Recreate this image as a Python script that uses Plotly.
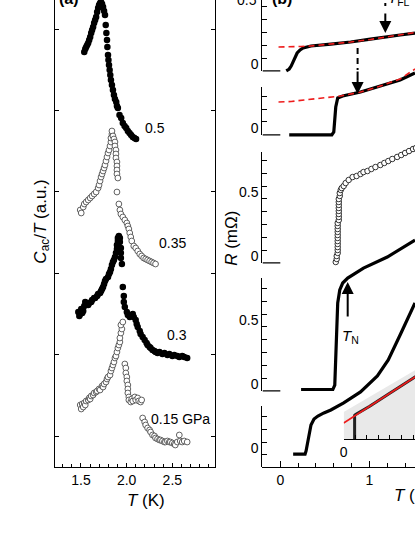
import plotly.graph_objects as go

FONT = "Liberation Sans, Arial, Helvetica, sans-serif"

# ---------------- Panel (a): C_ac/T (a.u.) vs T (K) ----------------
a_T_050 = [1.536,1.547,1.557,1.568,1.579,1.590,1.601,1.612,1.622,1.633,1.644,1.655,1.666,1.677,1.688,1.698,1.709,1.720,1.731,1.742,
           1.753,1.763,1.771,1.778,1.785,1.789,1.796,1.801,1.807,1.814,1.821,1.828,1.839,1.850,1.861,1.872,1.886,1.894,1.904,1.922,
           1.940,1.958,1.977,1.995,2.013,2.031,2.049,2.067,2.085,2.103]
a_C_050 = [384,387,389,391,393,396,399,403,406,409,413,416,419,424,428,431,433,434,432,429,
           425,421,411,403,396,389,381,376,371,366,361,356,351,346,341,337,334,330,328,321,
           318,313,310,308,305,303,301,299,298,297]

a_T_035 = [1.492,1.503,1.525,1.536,1.557,1.579,1.601,1.622,1.644,1.666,1.688,1.698,1.709,1.720,1.731,1.742,1.753,1.763,1.774,1.785,
           1.796,1.807,1.818,1.828,1.828,1.839,1.839,
           1.850,1.861,1.872,1.872,1.883,1.883,1.883,1.894,1.894,1.894,1.894,1.904,1.894,1.915,1.926,1.937,1.958,1.980,2.002,2.013,
           2.024,2.034,2.045,2.056,2.078,2.099,2.121,2.143,2.164,2.186,2.208,2.229,2.251,2.273,2.294,2.316]
a_C_035 = [226,223,229,232,234,236,238,240,242,244,248,251,255,259,262,265,268,271,275,279,
           283,286,290,294,298,302,305,
           300,297,294,290,286,282,278,274,270,266,262,258,244,232,226,222,219,216,213,210,
           207,203,199,195,190,188,185,182,180,178,177,176,175,174,173,172]

a_T_030 = [1.471,1.482,1.492,1.503,1.514,1.525,1.536,1.547,1.557,1.579,1.590,1.612,1.622,1.644,1.655,1.677,1.688,1.709,1.720,1.731,
           1.742,1.753,1.763,1.774,1.796,1.807,1.818,1.828,1.839,1.850,1.861,1.872,1.883,1.894,1.894,1.904,1.904,1.915,1.926,1.926,
           1.937,1.937,1.937,1.948,1.958,1.969,1.969,1.980,2.002,2.013,2.034,2.056,2.067,2.078,2.099,2.110,2.121,2.143,2.153,2.175,
           2.197,2.218,2.229,2.251,2.262,2.283,2.305,2.316,2.338,2.359,2.391,2.413,2.446,2.467,2.500,2.521,2.554,2.576,2.608,2.630,2.662]
a_C_030 = [124,120,122,127,123,125,130,134,131,131,133,134,136,138,138,140,142,143,145,147,
           149,152,155,157,159,162,164,167,171,174,176,179,183,187,191,195,198,200,198,194,
           188,183,178,172,149,140,134,129,124,121,119,121,122,119,116,112,109,105,102,99,
           96,93,91,89,88,86,85,84,83,84,82,83,81,82,80,81,80,79,80,79,78]

a_T_015 = [1.492,1.503,1.514,1.525,1.536,1.547,1.557,1.579,1.590,1.601,1.612,1.633,1.644,1.666,1.677,1.698,1.709,1.731,1.742,1.753,
           1.774,1.785,1.796,1.818,1.828,1.839,1.850,1.861,1.872,1.883,1.894,1.904,1.915,1.926,1.926,1.937,1.948,1.937,1.958,
           1.980,1.991,1.991,2.002,2.002,2.013,2.013,2.013,2.024,2.024,2.045,2.056,2.067,2.089,2.099,2.121,2.132,2.153,2.164,
           2.175,2.197,2.208,2.229,2.251,2.262,2.283,2.305,2.316,2.338,2.359,2.370,2.391,2.413,2.424,2.446,2.467,2.478,2.500,
           2.521,2.532,2.554,2.576,2.586,2.608,2.630,2.662]
a_C_015 = [31,27,32,29,33,31,35,36,38,37,40,41,43,44,45,47,46,50,49,52,
           54,57,59,61,65,68,71,74,78,80,84,88,91,94,98,103,107,111,114,
           72,68,63,59,55,51,47,43,39,36,34,37,35,39,36,38,35,34,36,
           18,14,11,8,6,4,1,0,-2,-3,-4,-4,-5,-6,-6,-5,-6,-6,-7,
           -8,-9,-6,1,-5,-6,-5,-6]

a_ticks_C = [0, 81.4, 162.8, 244.2, 325.6, 407.0]

# ---------------- Panel (b): R (mOhm) vs T (K), curves offset vertically ----------------
b1_T = [0.067,0.1,0.122,0.144,0.167,0.189,0.222,0.256,0.3,0.344,0.567,0.789,1.011,1.156,1.344,1.511]
b1_R = [-0.1,-0.086,-0.063,-0.031,0.008,0.039,0.063,0.078,0.086,0.094,0.109,0.125,0.148,0.164,0.180,0.195]
b1_fit_T = [-0.02,0.122,0.233,0.344,0.567,0.789,1.011,1.178,1.344,1.511]
b1_fit_R = [0.086,0.086,0.090,0.094,0.109,0.125,0.145,0.164,0.180,0.199]

b2_T = [0.1,0.578,0.6,0.611,0.622,0.644,0.7,0.9,1.089,1.344,1.511]
b2_R = [-0.1,-0.1,-0.078,0.016,0.117,0.188,0.203,0.234,0.273,0.328,0.383]
b2_fit_T = [-0.02,0.122,0.267,0.456,0.678,0.9,1.089,1.344,1.511]
b2_fit_R = [0.156,0.160,0.172,0.188,0.203,0.234,0.273,0.336,0.414]

b3_T = [0.622,0.633,0.633,0.644,0.644,0.644,0.644,0.644,0.644,0.644,0.644,0.644,0.644,0.644,0.656,0.656,0.656,0.656,0.656,0.656,
        0.656,0.656,0.667,0.667,0.678,0.689,0.711,0.733,0.767,0.811,0.856,0.9,0.933,0.978,1.022,1.067,1.122,1.167,1.211,1.256,
        1.311,1.356,1.4,1.444,1.489,1.522]
b3_R = [-0.094,-0.070,-0.047,-0.023,0.0,0.023,0.047,0.070,0.094,0.117,0.141,0.164,0.188,0.211,0.234,0.258,0.281,0.305,0.328,0.352,
        0.375,0.398,0.422,0.445,0.469,0.484,0.5,0.523,0.547,0.570,0.578,0.594,0.609,0.617,0.633,0.648,0.664,0.680,0.695,0.711,
        0.727,0.742,0.758,0.773,0.789,0.797]

b4_T = [0.233,0.589,0.611,0.622,0.633,0.644,0.667,0.7,0.756,0.811,0.933,1.2,1.367,1.511]
b4_R = [-0.09,-0.09,-0.055,0.141,0.375,0.586,0.688,0.742,0.781,0.805,0.859,0.945,1.016,1.078]

b5_T = [0.144,0.278,0.289,0.3,0.311,0.322,0.344,0.378,0.422,0.489,0.567,0.711,0.9,1.089,1.211,1.344,1.511]
b5_R = [-0.094,-0.094,-0.070,-0.031,0.016,0.078,0.133,0.180,0.203,0.227,0.25,0.305,0.391,0.516,0.641,0.836,1.086]

b_offsets = [3.0, 2.5, 1.5, 0.5, 0.0]

# inset
ins_shade_T = [0, 0, 4.2, 4.2]
ins_shade_y = [0, 2.7, 6.95, 0]
ins_fit_T = [0, 4.2]
ins_fit_y = [1.6, 6.3]
ins_data_T = [0.63, 0.63, 0.69, 1.5, 2.5, 3.5, 4.2]
ins_data_y = [0.0, 2.35, 2.45, 3.28, 4.4, 5.52, 6.3]

# ---------------- layout geometry ----------------
W, H = 415, 537
MB = 70
PH = H - MB
SCALE_B = 128.0             # px per mOhm
Y_LO = -25 / SCALE_B
Y_HI = Y_LO + PH / SCALE_B


def fx(px):
    return px / W


def fy(py):
    return (PH - py) / PH


def gdom(v):
    return (v - Y_LO) / (Y_HI - Y_LO)


fig = go.Figure()

# panel (a)
filled_a = dict(size=6.5, color="black", line=dict(width=0))
open_a = dict(size=5.8, color="white", line=dict(color="#505050", width=0.9))
fig.add_trace(go.Scatter(x=a_T_015, y=a_C_015, mode="markers", marker=open_a, xaxis="x", yaxis="y"))
fig.add_trace(go.Scatter(x=a_T_030, y=a_C_030, mode="markers", marker=filled_a, xaxis="x", yaxis="y"))
fig.add_trace(go.Scatter(x=a_T_035, y=a_C_035, mode="markers", marker=open_a, xaxis="x", yaxis="y"))
fig.add_trace(go.Scatter(x=a_T_050, y=a_C_050, mode="markers", marker=filled_a, xaxis="x", yaxis="y"))

# panel (b)
def off(vals, k):
    return [v + b_offsets[k] for v in vals]

blk = dict(color="black", width=3.2)
red = dict(color="#ee1c1c", width=1.6, dash="6px,4px")
fig.add_trace(go.Scatter(x=b1_T, y=off(b1_R, 0), mode="lines", line=blk, xaxis="x2", yaxis="y2"))
fig.add_trace(go.Scatter(x=b1_fit_T, y=off(b1_fit_R, 0), mode="lines", line=red, xaxis="x2", yaxis="y2"))
fig.add_trace(go.Scatter(x=b2_T, y=off(b2_R, 1), mode="lines", line=blk, xaxis="x2", yaxis="y2"))
fig.add_trace(go.Scatter(x=b2_fit_T, y=off(b2_fit_R, 1), mode="lines", line=red, xaxis="x2", yaxis="y2"))
fig.add_trace(go.Scatter(x=b3_T, y=off(b3_R, 2), mode="markers", xaxis="x2", yaxis="y2",
                         marker=dict(size=5.5, color="white", line=dict(color="#333", width=1))))
fig.add_trace(go.Scatter(x=b4_T, y=off(b4_R, 3), mode="lines", line=blk, xaxis="x2", yaxis="y2"))
fig.add_trace(go.Scatter(x=b5_T, y=off(b5_R, 4), mode="lines", line=blk, xaxis="x2", yaxis="y2"))

# empty traces so that each sub-panel axis is drawn
for i in range(5):
    fig.add_trace(go.Scatter(x=[None], y=[None], mode="lines", xaxis="x2", yaxis="y%d" % (i + 3),
                             hoverinfo="skip"))

# inset
fig.add_trace(go.Scatter(x=ins_shade_T, y=ins_shade_y, fill="toself", mode="lines", line=dict(width=0),
                         fillcolor="#e9e9e9", xaxis="x3", yaxis="y8"))
fig.add_trace(go.Scatter(x=ins_data_T, y=ins_data_y, mode="lines", line=dict(color="#222", width=3),
                         xaxis="x3", yaxis="y8"))
fig.add_trace(go.Scatter(x=ins_fit_T, y=ins_fit_y, mode="lines", line=dict(color="#ee1c1c", width=1.6),
                         xaxis="x3", yaxis="y8"))

tickfont = dict(family=FONT, size=14, color="black")

layout = dict(
    width=W, height=H, margin=dict(l=0, r=0, t=0, b=MB, pad=0),
    paper_bgcolor="white", plot_bgcolor="rgba(0,0,0,0)", showlegend=False,
    font=dict(family=FONT, size=14, color="black"),
    xaxis=dict(domain=[fx(52), fx(213)], range=[1.2216, 2.9659], anchor="y",
               showline=True, linecolor="black", linewidth=1.2, mirror=False,
               ticks="inside", ticklen=4, tickwidth=1, tickcolor="black",
               tickvals=[1.5, 2.0, 2.5], ticktext=["1.5", "2.0", "2.5"], tickfont=tickfont,
               minor=dict(tickvals=[1.3, 1.4, 1.6, 1.7, 1.8, 1.9, 2.1, 2.2, 2.3, 2.4, 2.6, 2.7, 2.8, 2.9],
                          ticks="inside", ticklen=3, tickcolor="black", tickwidth=1),
               showgrid=False, zeroline=False),
    yaxis=dict(domain=[0, 1], range=[-31, 436], anchor="x",
               showline=True, linecolor="black", linewidth=1.2, mirror="ticks",
               ticks="inside", ticklen=4, tickcolor="black", tickvals=a_ticks_C,
               showticklabels=False, showgrid=False, zeroline=False),
    xaxis2=dict(domain=[fx(261), 1], range=[-0.2, 1.5111], anchor="y2",
                showline=True, linecolor="black", linewidth=1.2,
                ticks="inside", ticklen=6, tickcolor="black", tickvals=[0, 1, 2], tickfont=tickfont,
                minor=dict(tickvals=[-0.2, 0.2, 0.4, 0.6, 0.8, 1.2, 1.4], ticks="inside", ticklen=4, tickcolor="black"),
                showgrid=False, zeroline=False),
    yaxis2=dict(domain=[0, 1], range=[Y_LO, Y_HI], anchor="x2", visible=False, showgrid=False),
    xaxis3=dict(domain=[fx(343), 1], range=[0, 72 / 17.5], anchor="y8",
                showline=True, linecolor="black", linewidth=1.2,
                ticks="inside", ticklen=4, tickcolor="black",
                tickvals=[0, 0.667, 1.333, 2, 2.667, 3.333, 4], ticktext=["0", "", "", "", "", "", "4"],
                tickfont=tickfont, showgrid=False, zeroline=False),
    yaxis8=dict(domain=[fy(439), fy(369)], range=[0, 7], anchor="x3", visible=False),
)

sub_ranges = [(-0.1, Y_HI - 3.0), (-0.1, 0.273), (-0.1, 0.766), (-0.1, 0.781), (Y_LO, 0.281)]
sub_ticks = [[0, 0.1, 0.2, 0.3, 0.4], [0, 0.1, 0.2], [0, 0.1, 0.2, 0.3, 0.4, 0.5, 0.6, 0.7],
             [0, 0.1, 0.2, 0.3, 0.4, 0.5, 0.6, 0.7], [-0.1, 0, 0.1, 0.2]]
for i, (lo, hi) in enumerate(sub_ranges):
    o = b_offsets[i]
    tv = sub_ticks[i]
    tt = ["0" if v == 0 else ("0.5" if v == 0.5 else "") for v in tv]
    layout["yaxis%d" % (i + 3)] = dict(
        domain=[max(0, gdom(lo + o)), min(1, gdom(hi + o))], range=[lo, hi], anchor="x2",
        showline=True, linecolor="black", linewidth=1.2,
        ticks="inside", ticklen=5, tickcolor="black", tickvals=tv, ticktext=tt,
        tickfont=tickfont, ticklabelshift=6, showgrid=False, zeroline=False)

fig.update_layout(**layout)

# short baseline segments of the offset sub-panels
for i in range(4):
    fig.add_shape(type="line", xref="x2", yref="y2", x0=-0.2, x1=0,
                  y0=b_offsets[i] - 0.1, y1=b_offsets[i] - 0.1, line=dict(color="black", width=1.2))

# dashed parts of arrows
fig.add_shape(type="line", xref="x2", yref="y2", x0=1.178, x1=1.178,
              y0=(442 + 3) / SCALE_B, y1=(442 - 8) / SCALE_B, line=dict(color="black", width=2, dash="3px,3px"))
fig.add_shape(type="line", xref="x2", yref="y2", x0=0.867, x1=0.867,
              y0=(442 - 48) / SCALE_B, y1=(442 - 70) / SCALE_B, line=dict(color="black", width=2, dash="6px,4px"))

ann = []
def text(x, y, s, size=14, xanchor="center", yanchor="middle", angle=0):
    ann.append(dict(x=fx(x), y=fy(y), xref="paper", yref="paper", text=s, showarrow=False,
                    xanchor=xanchor, yanchor=yanchor, textangle=angle,
                    font=dict(family=FONT, size=size, color="black")))

text(66, -1, "<b>(a)</b>", 16)
text(281, -1, "<b>(b)</b>", 16)
text(152, 128, "0.5")
text(170, 243, "0.35")
text(175, 335, "0.3")
text(178, 419, "0.15 GPa")
text(257, 0, "0.5", xanchor="right")
text(38, 222, "<i>C</i><sub>ac</sub>/<i>T</i> (a.u.)", 17, angle=-90)
text(143, 500, "<i>T</i> (K)", 17)
text(229, 238, "<i>R</i> (mΩ)", 17, angle=-90)
text(392, 495, "<i>T</i> (K)", 17, xanchor="left")
text(350, 336, "<i>T</i><sub>N</sub>", 15)
text(399, -1, "<i>T</i><sub>FL</sub>", 15)

def arrow(T, py_tip, ay):
    ann.append(dict(x=T, y=(442 - py_tip) / SCALE_B, xref="x2", yref="y2", ax=0, ay=ay,
                    axref="pixel", ayref="pixel", text="", showarrow=True, arrowhead=2,
                    arrowsize=1.2, arrowwidth=2, arrowcolor="black", standoff=0))

arrow(1.178, 33, -21)
arrow(0.867, 94, -24)
arrow(0.756, 282, 36)

fig.update_layout(annotations=ann)
fig.write_html("out.html", config={"displayModeBar": False, "staticPlot": True},
               post_script="document.body.style.margin='0';document.body.style.overflow='hidden';")
